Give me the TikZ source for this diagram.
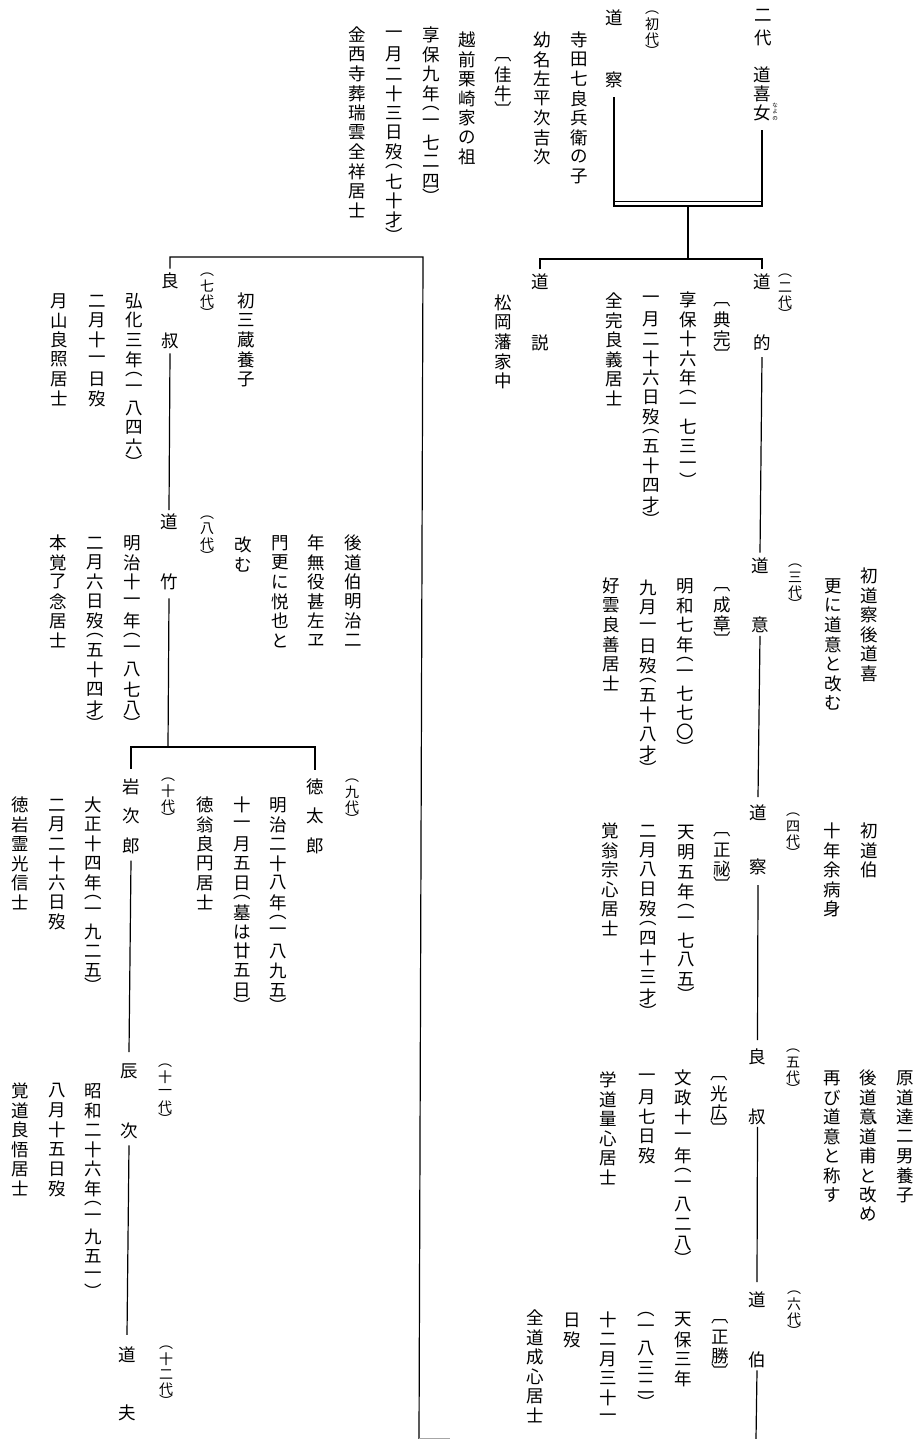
\documentclass[tikz,border=0pt]{standalone}
\usepackage{fontspec}
\newfontfamily\jpfont{Noto Sans CJK JP}
\makeatletter
\newdimen\vtp
\def\vtend{\vtend}
\newcommand\vt[2]{\vtp=#1\relax\vbox{\offinterlineskip\vt@loop#2\vtend}}
\def\vt@loop#1{\ifx#1\vtend\else\vt@cell#1\expandafter\vt@loop\fi}
\def\vt@half#1{\vbox to .5\vtp{\vss\hbox to 2em{\hss#1\hss}\vss}}
\def\vt@full#1{\vbox to \vtp{\vss\hbox to 2em{\hss#1\hss}\vss}}
\def\vt@cell#1{%
  \ifx#1︵\vt@half#1\else
  \ifx#1︶\vt@half#1\else
  \ifx#1︹\vt@half#1\else
  \ifx#1︺\vt@half#1\else
  \vt@full#1\fi\fi\fi\fi}
\makeatother
\tikzset{
  txt/.style={anchor=north, inner sep=0pt, font=\jpfont\fontsize{17.5pt}{20pt}\selectfont},
  gen/.style={anchor=north, inner sep=0pt, font=\jpfont\fontsize{14pt}{15pt}\selectfont},
  ruby/.style={anchor=north, inner sep=0pt, font=\jpfont\fontsize{5.5pt}{6pt}\selectfont},
  link/.style={line width=1.2pt},
  faint/.style={line width=0.8pt, black!35},
}
\begin{document}
\begin{tikzpicture}[x=1pt,y=-1pt]
\useasboundingbox[fill=white] (0,0) rectangle (916,1439);

% ---------- top block ----------
\node[txt] (nidai) at (763,3.75) {\vt{22.5pt}{二代}};
\node[txt] (kijo) at (762,65) {\vt{19pt}{道喜女}};
\node[ruby] (kijoruby) at (775,101.5) {\vt{6.8pt}{なよの}};
\node[gen] (g1) at (652,9) {\vt{15pt}{︵初代︶}};
\node[txt] (dosatsu1) at (614,7.2) {\vt{20.67pt}{道　　察}};
\node[txt] (a1) at (579,30) {\vt{19.5pt}{寺田七良兵衛の子}};
\node[txt] (a2) at (542,30) {\vt{19.5pt}{幼名左平次吉次}};
\node[txt] (a3) at (503,55) {\vt{19.5pt}{︹佳牛︺}};
\node[txt] (a4) at (467,30) {\vt{19.5pt}{越前栗崎家の祖}};
\node[txt] (a5) at (431,25) {\vt{19.5pt}{享保九年︵一七二四︶}};
\node[txt] (a6) at (394,25) {\vt{19.5pt}{一月二十三日歿︵七十才︶}};
\node[txt] (a7) at (357,25) {\vt{19.5pt}{金西寺葬瑞雲全祥居士}};

% ---------- right block ----------
\node[txt] (doteki) at (762,271.3) {\vt{20.33pt}{道　　的}};
\node[gen] (g2) at (785,272) {\vt{15pt}{︵二代︶}};
\node[txt] (b1) at (722,300) {\vt{19.5pt}{︹典完︺}};
\node[txt] (b2) at (688,290) {\vt{19.5pt}{享保十六年︵一七三一︶}};
\node[txt] (b3) at (651,290) {\vt{19.5pt}{一月二十六日歿︵五十四才︶}};
\node[txt] (b4) at (614,291) {\vt{19.5pt}{全完良義居士}};
\node[txt] (dosetsu) at (540,271.3) {\vt{20.33pt}{道　　説}};
\node[txt] (b5) at (503,293) {\vt{19.5pt}{松岡藩家中}};

\node[txt] (doi) at (760,555.7) {\vt{19.67pt}{道　　意}};
\node[gen] (g3) at (795,562) {\vt{15pt}{︵三代︶}};
\node[txt] (c1) at (722,585) {\vt{19.5pt}{︹成章︺}};
\node[txt] (c2) at (685,576) {\vt{19.5pt}{明和七年︵一七七〇︶}};
\node[txt] (c3) at (648,578) {\vt{19.5pt}{九月一日歿︵五十八才︶}};
\node[txt] (c4) at (611,576) {\vt{19.5pt}{好雲良善居士}};
\node[txt] (c5) at (869,566) {\vt{19.5pt}{初道察後道喜}};
\node[txt] (c6) at (833,576) {\vt{19.5pt}{更に道意と改む}};

\node[txt] (dosatsu4) at (758,803) {\vt{18.2pt}{道　　察}};
\node[gen] (g4) at (793,811) {\vt{15pt}{︵四代︶}};
\node[txt] (d1) at (722,830) {\vt{19.5pt}{︹正祕︺}};
\node[txt] (d2) at (686,823) {\vt{19.5pt}{天明五年︵一七八五︶}};
\node[txt] (d3) at (648,821) {\vt{19.5pt}{二月八日歿︵四十三才︶}};
\node[txt] (d4) at (610,821) {\vt{19.5pt}{覚翁宗心居士}};
\node[txt] (d5) at (869,821) {\vt{19.5pt}{初道伯}};
\node[txt] (d6) at (832,821) {\vt{19.5pt}{十年余病身}};

\node[txt] (ryoshuku5) at (757.5,1046.5) {\vt{20pt}{良　　叔}};
\node[gen] (g5) at (793,1047) {\vt{15pt}{︵五代︶}};
\node[txt] (e1) at (719,1074) {\vt{19.5pt}{︹光広︺}};
\node[txt] (e2) at (683,1068) {\vt{19.5pt}{文政十一年︵一八二八︶}};
\node[txt] (e3) at (647,1068) {\vt{19.5pt}{一月七日歿}};
\node[txt] (e4) at (608,1070) {\vt{19.5pt}{学道量心居士}};
\node[txt] (e5) at (832,1068) {\vt{19.5pt}{再び道意と称す}};
\node[txt] (e6) at (868,1068) {\vt{19.5pt}{後道意道甫と改め}};
\node[txt, anchor=center] (e6comma) at (880,1122.5) {、};
\node[txt] (e7) at (905,1068) {\vt{19.5pt}{原道達二男養子}};

\node[txt] (dohaku) at (757,1290) {\vt{20pt}{道　　伯}};
\node[gen] (g6) at (794,1289) {\vt{15pt}{︵六代︶}};
\node[txt] (f1) at (720,1317) {\vt{19.5pt}{︹正勝︺}};
\node[txt] (f2) at (683,1310) {\vt{19.5pt}{天保三年}};
\node[txt] (f3) at (646,1309) {\vt{19.5pt}{︵一八三二︶}};
\node[txt] (f4) at (608,1310) {\vt{19.5pt}{十二月三十一}};
\node[txt] (f5) at (572,1310) {\vt{19.5pt}{日歿}};
\node[txt] (f6) at (535,1308) {\vt{19.5pt}{全道成心居士}};

% ---------- left block ----------
\node[txt] (ryoshuku7) at (170,270.5) {\vt{20pt}{良　　叔}};
\node[gen] (g7) at (207,271) {\vt{15pt}{︵七代︶}};
\node[txt] (h1) at (246,291) {\vt{19.5pt}{初三蔵養子}};
\node[txt] (h2) at (134,291) {\vt{19.5pt}{弘化三年︵一八四六︶}};
\node[txt] (h3) at (97,291) {\vt{19.5pt}{二月十一日歿}};
\node[txt] (h4) at (59,291) {\vt{19.5pt}{月山良照居士}};

\node[txt] (dochiku) at (169,511.5) {\vt{20pt}{道　　竹}};
\node[gen] (g8) at (207,514) {\vt{15pt}{︵八代︶}};
\node[txt] (i1) at (353,533) {\vt{19.5pt}{後道伯明治二}};
\node[txt] (i2) at (316,533) {\vt{19.5pt}{年無役甚左ヱ}};
\node[txt] (i3) at (280,533) {\vt{19.5pt}{門更に悦也と}};
\node[txt] (i4) at (243,535) {\vt{19.5pt}{改む}};
\node[txt] (i5) at (132,533) {\vt{19.5pt}{明治十一年︵一八七八︶}};
\node[txt] (i6) at (95,533) {\vt{19.5pt}{二月六日歿︵五十四才︶}};
\node[txt] (i7) at (58,533) {\vt{19.5pt}{本覚了念居士}};

\node[txt] (tokutaro) at (315,771.75) {\vt{29.5pt}{徳太郎}};
\node[gen] (g9) at (352,777) {\vt{15pt}{︵九代︶}};
\node[txt] (k1) at (278,795) {\vt{19.5pt}{明治二十八年︵一八九五︶}};
\node[txt] (k2) at (242,795) {\vt{19.5pt}{十一月五日︵墓は廿五日︶}};
\node[txt] (k3) at (205,795) {\vt{19.5pt}{徳翁良円居士}};

\node[txt] (iwajiro) at (131,771.75) {\vt{29.5pt}{岩次郎}};
\node[gen] (g10) at (168,776) {\vt{15pt}{︵十代︶}};
\node[txt] (l1) at (93,795) {\vt{19.5pt}{大正十四年︵一九二五︶}};
\node[txt] (l2) at (57,795) {\vt{19.5pt}{二月二十六日歿}};
\node[txt] (l3) at (20,795) {\vt{19.5pt}{徳岩霊光信士}};

\node[txt] (tatsuji) at (129,1061.7) {\vt{19.67pt}{辰　　次}};
\node[gen] (g11) at (165,1062) {\vt{15pt}{︵十一代︶}};
\node[txt] (m1) at (93,1081) {\vt{19.5pt}{昭和二十六年︵一九五一︶}};
\node[txt] (m2) at (57,1081) {\vt{19.5pt}{八月十五日歿}};
\node[txt] (m3) at (20,1081) {\vt{19.5pt}{覚道良悟居士}};

\node[txt] (michio) at (127,1344.8) {\vt{19.33pt}{道　　夫}};
\node[gen] (g12) at (166,1344) {\vt{15pt}{︵十二代︶}};

% ---------- connectors ----------
\coordinate (rtl) at (614,201.5);
\coordinate (rbr) at (762,206);
\draw[link] (rtl) rectangle (rbr);
\draw[link] ([yshift=-7pt]dosatsu1.south) -- (dosatsu1.south |- rtl);
\draw[link] ([yshift=-8pt]kijo.south) -- (kijo.south |- rtl);
\coordinate (j0) at (688,206);
\coordinate (j1) at (688,259);
\draw[link] (j0) -- (j1);
\draw[link] ([yshift=2pt]dosetsu.north) |- (j1) -| ([yshift=2pt]doteki.north);

\coordinate (lc) at (423,257);
\coordinate (lb) at (419,1439);
\draw[link] ([yshift=2pt]ryoshuku7.north) |- (lc) -- (lb);
\coordinate (lbs) at (419,1438.3);
\coordinate (lbe) at (450,1438.3);
\draw[faint] (lbs) -- (lbe);

\draw[link] ([yshift=-4pt]doteki.south) -- ([yshift=3pt]doi.north);
\draw[link] ([yshift=-1pt]doi.south) -- ([yshift=6pt]dosatsu4.north);
\draw[link] ([yshift=-9pt]dosatsu4.south) -- ([yshift=6.5pt]ryoshuku5.north);
\draw[link] (ryoshuku5.south) -- ([yshift=8pt]dohaku.north);
\coordinate (rb) at (756,1439);
\draw[link] (dohaku.south) -- (rb);

\draw[link] ([yshift=-2.5pt]ryoshuku7.south) -- ([yshift=1.5pt]dochiku.north);
\coordinate (j2) at (168,747);
\draw[link] ([yshift=-6.5pt]dochiku.south) -- (j2);
\draw[link] ([yshift=3pt]iwajiro.north) |- (j2) -| ([yshift=2pt]tokutaro.north);
\draw[link] (iwajiro.south) -- ([yshift=9.7pt]tatsuji.north);
\draw[link] ([yshift=-4.6pt]tatsuji.south) -- ([yshift=10pt]michio.north);
\end{tikzpicture}
\end{document}
